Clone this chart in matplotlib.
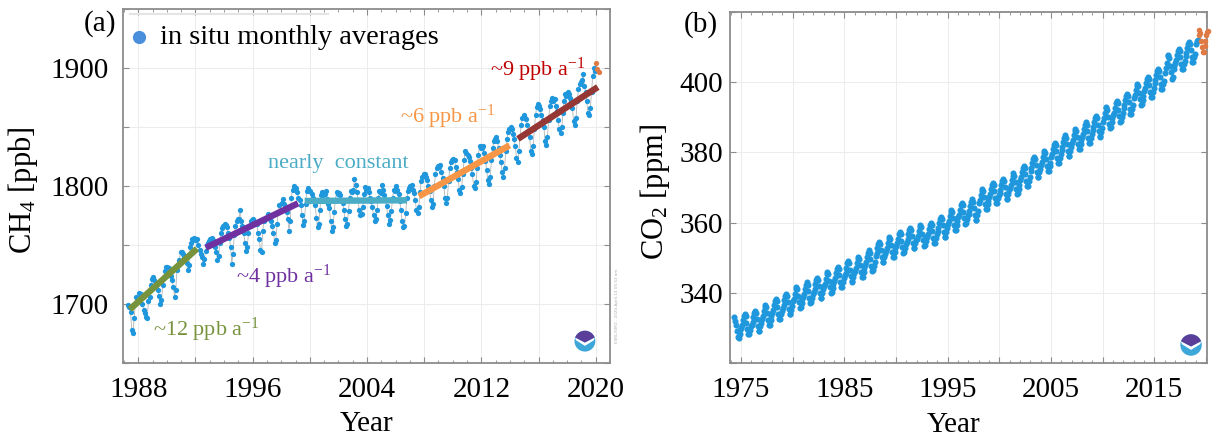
import matplotlib.pyplot as plt
import numpy as np
from matplotlib.ticker import MultipleLocator, FuncFormatter
from matplotlib.patches import Circle, Polygon

plt.rcParams['font.family'] = ['Liberation Serif', 'DejaVu Serif']
plt.rcParams['mathtext.fontset'] = 'custom'
plt.rcParams['mathtext.rm'] = 'Liberation Serif'
plt.rcParams['mathtext.it'] = 'Liberation Serif:italic'
plt.rcParams['mathtext.default'] = 'rm'

# ---------------- data: CH4 monthly means [ppb], Apr 1987 - Dec 2019 (blue) ----------------
ch4_start = 1987 + 3 / 12   # first value is April 1987
ch4_blue = [
    1699, 1697, 1693, 1678, 1675, 1688, 1700, 1706, 1704,                     # 1987
    1709, 1705, 1708, 1700, 1695, 1692, 1689, 1688, 1702, 1706, 1716, 1721,   # 1988
    1723, 1720, 1715, 1717, 1712, 1707, 1700, 1703, 1716, 1723, 1728, 1731,   # 1989
    1731, 1730, 1728, 1724, 1720, 1714, 1706, 1712, 1729, 1733, 1737, 1744,   # 1990
    1744, 1742, 1740, 1741, 1735, 1729, 1733, 1748, 1752, 1755, 1756, 1754,   # 1991
    1754, 1755, 1750, 1746, 1742, 1740, 1734, 1738, 1745, 1750, 1752, 1753,   # 1992
    1755, 1756, 1754, 1750, 1748, 1744, 1737, 1741, 1752, 1760, 1764, 1766,   # 1993
    1768, 1767, 1765, 1760, 1756, 1748, 1734, 1742, 1758, 1766, 1770, 1772,   # 1994
    1772, 1780, 1770, 1766, 1760, 1752, 1745, 1748, 1760, 1766, 1770, 1771,   # 1995
    1772, 1770, 1768, 1768, 1760, 1755, 1746, 1744, 1762, 1770, 1772, 1773,   # 1996
    1776, 1774, 1772, 1770, 1766, 1760, 1752, 1754, 1768, 1778, 1784, 1780,   # 1997
    1786, 1789, 1785, 1783, 1778, 1772, 1762, 1770, 1790, 1797, 1800, 1798,   # 1998
    1798, 1795, 1790, 1788, 1784, 1775, 1767, 1770, 1785, 1796, 1798, 1796,   # 1999
    1796, 1793, 1790, 1788, 1784, 1773, 1765, 1768, 1780, 1792, 1795, 1792,   # 2000
    1793, 1796, 1789, 1785, 1781, 1770, 1762, 1765, 1778, 1788, 1795, 1793,   # 2001
    1794, 1792, 1788, 1786, 1780, 1772, 1766, 1768, 1779, 1790, 1796, 1795,   # 2002
    1797, 1806, 1801, 1795, 1788, 1780, 1775, 1776, 1782, 1793, 1799, 1797,   # 2003
    1798, 1795, 1790, 1787, 1782, 1775, 1770, 1772, 1780, 1790, 1796, 1794,   # 2004
    1801, 1797, 1792, 1788, 1783, 1775, 1768, 1771, 1779, 1790, 1797, 1796,   # 2005
    1800, 1797, 1793, 1787, 1780, 1770, 1765, 1766, 1777, 1790, 1796, 1798,   # 2006
    1800, 1801, 1797, 1794, 1788, 1780, 1777, 1782, 1795, 1804, 1808, 1810,   # 2007
    1810, 1808, 1805, 1800, 1796, 1788, 1782, 1785, 1800, 1810, 1815, 1817,   # 2008
    1816, 1818, 1812, 1807, 1800, 1790, 1786, 1790, 1804, 1815, 1820, 1822,   # 2009
    1823, 1822, 1816, 1812, 1806, 1797, 1794, 1799, 1810, 1822, 1830, 1828,   # 2010
    1826, 1825, 1821, 1815, 1810, 1800, 1798, 1803, 1815, 1826, 1834, 1832,   # 2011
    1832, 1834, 1828, 1821, 1814, 1805, 1802, 1808, 1822, 1832, 1838, 1840,   # 2012
    1842, 1838, 1832, 1826, 1820, 1812, 1808, 1815, 1830, 1840, 1846, 1848,   # 2013
    1850, 1848, 1844, 1840, 1834, 1824, 1820, 1830, 1842, 1852, 1858, 1860,   # 2014
    1858, 1857, 1852, 1847, 1842, 1830, 1827, 1834, 1848, 1860, 1867, 1870,   # 2015
    1868, 1865, 1860, 1856, 1850, 1838, 1835, 1842, 1856, 1868, 1872, 1875,   # 2016
    1872, 1874, 1868, 1864, 1856, 1848, 1845, 1850, 1862, 1872, 1878, 1876,   # 2017
    1880, 1878, 1875, 1872, 1866, 1855, 1852, 1858, 1872, 1882, 1887, 1888,   # 2018
    1890, 1895, 1885, 1880, 1872, 1862, 1860, 1866, 1880, 1893, 1900, 1898,   # 2019
]
ch4_recent = [1904, 1899, 1897]    # Jan - Mar 2020, preliminary (orange)

# trend segments: (x0, x1), (y0, y1), colour, label, label position
trend_x = [(1987.41, 1992.11), (1992.72, 1999.18), (1999.64, 2006.80),
           (2007.64, 2013.98), (2014.56, 2020.15)]
trend_y = [(1695.3, 1746.8), (1747.6, 1785.3), (1787.3, 1787.9),
           (1791.3, 1834.5), (1840.0, 1884.0)]
trend_colors = ['#77933C', '#7030A0', '#4BACC6', '#F79646', '#953735']
trend_labels = ['~12 ppb a$^{-1}$', '~4 ppb a$^{-1}$', 'nearly  constant',
                '~6 ppb a$^{-1}$', '~9 ppb a$^{-1}$']
label_colors = ['#77933C', '#7030A0', '#4BACC6', '#F79646', '#C00000']
label_pos = [(1989.0, 1677.5), (1994.85, 1722.8), (1997.1, 1819.5),
             (2006.3, 1858.6), (2012.6, 1898.5)]

# ---------------- data: CO2 monthly means [ppm], May 1974 - Mar 2019 (blue) ----------------
co2_start = 1974 + 4 / 12   # first value is May 1974
co2_blue = [
    333.1, 332.1, 330.9, 329.2, 327.4, 327.2, 328.3, 329.5,                              # 1974
    330.0, 330.8, 332.2, 333.4, 334.0, 333.4, 331.6, 329.7, 328.2, 328.3, 329.6, 330.7,  # 1975
    330.9, 331.7, 333.1, 334.3, 334.9, 334.3, 332.5, 330.6, 329.1, 329.2, 330.5, 331.6,  # 1976
    332.7, 333.5, 334.9, 336.1, 336.7, 336.1, 334.3, 332.4, 330.9, 331.0, 332.3, 333.4,  # 1977
    334.3, 335.1, 336.5, 337.7, 338.3, 337.7, 335.9, 334.0, 332.5, 332.6, 333.9, 335.0,  # 1978
    335.7, 336.5, 337.9, 339.1, 339.7, 339.1, 337.3, 335.4, 333.9, 334.0, 335.3, 336.4,  # 1979
    337.6, 338.4, 339.8, 341.0, 341.6, 341.0, 339.2, 337.3, 335.8, 335.9, 337.2, 338.3,  # 1980
    339.0, 339.8, 341.2, 342.4, 343.0, 342.4, 340.6, 338.7, 337.2, 337.3, 338.6, 339.7,  # 1981
    340.3, 341.1, 342.5, 343.7, 344.3, 343.7, 341.9, 340.0, 338.5, 338.6, 339.9, 341.0,  # 1982
    341.9, 342.7, 344.1, 345.3, 345.9, 345.3, 343.5, 341.6, 340.1, 340.2, 341.5, 342.6,  # 1983
    343.5, 344.3, 345.7, 346.9, 347.5, 346.9, 345.1, 343.2, 341.7, 341.8, 343.1, 344.2,  # 1984
    345.0, 345.8, 347.2, 348.4, 349.0, 348.4, 346.6, 344.7, 343.2, 343.3, 344.6, 345.7,  # 1985
    346.3, 347.1, 348.5, 349.7, 350.3, 349.7, 347.9, 346.0, 344.5, 344.6, 345.9, 347.0,  # 1986
    348.1, 348.9, 350.3, 351.5, 352.1, 351.5, 349.7, 347.8, 346.3, 346.4, 347.7, 348.8,  # 1987
    350.5, 351.3, 352.7, 353.9, 354.5, 353.9, 352.1, 350.2, 348.7, 348.8, 350.1, 351.2,  # 1988
    352.0, 352.8, 354.2, 355.4, 356.0, 355.4, 353.6, 351.7, 350.2, 350.3, 351.6, 352.7,  # 1989
    353.3, 354.1, 355.5, 356.7, 357.3, 356.7, 354.9, 353.0, 351.5, 351.6, 352.9, 354.0,  # 1990
    354.5, 355.3, 356.7, 357.9, 358.5, 357.9, 356.1, 354.2, 352.7, 352.8, 354.1, 355.2,  # 1991
    355.3, 356.1, 357.5, 358.7, 359.3, 358.7, 356.9, 355.0, 353.5, 353.6, 354.9, 356.0,  # 1992
    356.0, 356.8, 358.2, 359.4, 360.0, 359.4, 357.6, 355.7, 354.2, 354.3, 355.6, 356.7,  # 1993
    357.7, 358.5, 359.9, 361.1, 361.7, 361.1, 359.3, 357.4, 355.9, 356.0, 357.3, 358.4,  # 1994
    359.7, 360.5, 361.9, 363.1, 363.7, 363.1, 361.3, 359.4, 357.9, 358.0, 359.3, 360.4,  # 1995
    361.5, 362.3, 363.7, 364.9, 365.5, 364.9, 363.1, 361.2, 359.7, 359.8, 361.1, 362.2,  # 1996
    362.6, 363.4, 364.8, 366.0, 366.6, 366.0, 364.2, 362.3, 360.8, 360.9, 362.2, 363.3,  # 1997
    365.6, 366.4, 367.8, 369.0, 369.6, 369.0, 367.2, 365.3, 363.8, 363.9, 365.2, 366.3,  # 1998
    367.3, 368.1, 369.5, 370.7, 371.3, 370.7, 368.9, 367.0, 365.5, 365.6, 366.9, 368.0,  # 1999
    368.5, 369.3, 370.7, 371.9, 372.5, 371.9, 370.1, 368.2, 366.7, 366.8, 368.1, 369.2,  # 2000
    370.0, 370.8, 372.2, 373.4, 374.0, 373.4, 371.6, 369.7, 368.2, 368.3, 369.6, 370.7,  # 2001
    372.2, 373.0, 374.4, 375.6, 376.2, 375.6, 373.8, 371.9, 370.4, 370.5, 371.8, 372.9,  # 2002
    374.7, 375.5, 376.9, 378.1, 378.7, 378.1, 376.3, 374.4, 372.9, 373.0, 374.3, 375.4,  # 2003
    376.4, 377.2, 378.6, 379.8, 380.4, 379.8, 378.0, 376.1, 374.6, 374.7, 376.0, 377.1,  # 2004
    378.7, 379.5, 380.9, 382.1, 382.7, 382.1, 380.3, 378.4, 376.9, 377.0, 378.3, 379.4,  # 2005
    380.8, 381.6, 383.0, 384.2, 384.8, 384.2, 382.4, 380.5, 379.0, 379.1, 380.4, 381.5,  # 2006
    382.7, 383.5, 384.9, 386.1, 386.7, 386.1, 384.3, 382.4, 380.9, 381.0, 382.3, 383.4,  # 2007
    384.5, 385.3, 386.7, 387.9, 388.5, 387.9, 386.1, 384.2, 382.7, 382.8, 384.1, 385.2,  # 2008
    386.3, 387.1, 388.5, 389.7, 390.3, 389.7, 387.9, 386.0, 384.5, 384.6, 385.9, 387.0,  # 2009
    388.5, 389.8, 391.1, 392.5, 393.0, 392.1, 390.1, 388.2, 386.8, 387.2, 388.6, 389.7,  # 2010
    390.5, 391.3, 392.7, 393.9, 394.5, 393.9, 392.1, 390.2, 388.7, 388.8, 390.1, 391.2,  # 2011
    392.7, 393.5, 394.9, 396.1, 396.7, 396.1, 394.3, 392.4, 390.9, 391.0, 392.3, 393.4,  # 2012
    395.4, 396.2, 397.6, 398.8, 399.4, 398.8, 397.0, 395.1, 393.6, 393.7, 395.0, 396.1,  # 2013
    397.5, 398.3, 399.7, 400.9, 401.5, 400.9, 399.1, 397.2, 395.7, 395.8, 397.1, 398.2,  # 2014
    399.7, 400.5, 401.9, 403.1, 403.7, 403.1, 401.3, 399.4, 397.9, 398.0, 399.3, 400.4,  # 2015
    402.6, 403.9, 405.3, 407.5, 407.7, 406.8, 404.7, 402.8, 401.0, 401.5, 403.6, 404.6,  # 2016
    405.4, 406.2, 407.6, 408.8, 409.4, 408.8, 407.0, 405.1, 403.6, 403.7, 405.0, 406.1,  # 2017
    407.4, 408.2, 409.6, 410.8, 411.4, 410.8, 409.0, 407.1, 405.6, 405.7, 407.0, 408.1,  # 2018
    410.8, 411.6, 412.0,                                                                 # 2019
]
# Apr 2019 - Mar 2020, preliminary (orange)
co2_recent = [413.3, 414.7, 413.9, 411.8, 410.0, 408.5, 408.6, 410.2, 411.8, 413.4, 414.1, 414.5]

BLUE = '#1f97dc'
ORANGE = '#e07a45'
SPINE = '#8c8c8c'


def month_axis(start, n):
    # centre of each month, starting at the given month start
    return start + (np.arange(n) + 0.5) / 12


def label_every(step, first, lo=None, hi=None):
    def fmt(v, pos):
        v = int(round(v))
        if (v - first) % step:
            return ''
        if lo is not None and not (lo <= v <= hi):
            return ''
        return str(v)
    return FuncFormatter(fmt)


def style(ax):
    for s in ax.spines.values():
        s.set_color(SPINE)
        s.set_linewidth(1.3)
    ax.tick_params(which='both', direction='in', top=True, right=True,
                   color=SPINE, labelsize=21)
    ax.tick_params(which='major', length=4, width=0.8)
    ax.tick_params(which='minor', length=2.5, width=0.6)
    ax.grid(True, which='major', color='#ececec', lw=0.7)
    ax.set_axisbelow(True)


def noaa_logo(ax, rect):
    lx = ax.inset_axes(rect)
    lx.set_xlim(-1.05, 1.05)
    lx.set_ylim(-1.05, 1.05)
    lx.set_aspect('equal')
    lx.axis('off')
    lx.add_patch(Circle((0, 0), 1, color='#3ea7da', lw=0))
    t = np.radians(np.linspace(20, 160, 40))
    top = np.column_stack([np.cos(t), np.sin(t)])
    lx.add_patch(Polygon(np.vstack([top, [[0, -0.15]]]), color='#5b3e9a', lw=0))
    lx.add_patch(Polygon([(-0.94, 0.34), (0, -0.15), (0.94, 0.34), (0.85, 0.08),
                          (0, -0.45), (-0.85, 0.08)], color='white', lw=0))


fig = plt.figure(figsize=(12.18, 4.37), dpi=100)
ax1 = fig.add_axes([0.1012, 0.1700, 0.3996, 0.8087])
ax2 = fig.add_axes([0.5993, 0.1686, 0.3919, 0.8046])

# ---------------- panel (a): CH4 ----------------
t_blue = month_axis(ch4_start, len(ch4_blue))
t_rec = month_axis(2020.0, len(ch4_recent))
ax1.plot(np.r_[t_blue, t_rec], np.r_[ch4_blue, ch4_recent], color='#b5b5b5', lw=0.6, zorder=2)
ax1.plot(t_blue, ch4_blue, 'o', color=BLUE, ms=3.8, mew=0, zorder=3)
ax1.plot(t_rec, ch4_recent, 'o', color=ORANGE, ms=3.8, mew=0, zorder=3)

for (x0, x1), (y0, y1), c in zip(trend_x, trend_y, trend_colors):
    ax1.plot([x0, x1], [y0, y1], color=c, lw=4.6, solid_capstyle='butt', zorder=4)
for txt, c, (x, y) in zip(trend_labels, label_colors, label_pos):
    ax1.text(x, y, txt, color=c, fontsize=16, ha='left', va='center', zorder=5)

ax1.set_xlim(1986.95, 2021.0)
ax1.set_ylim(1650, 1950)
ax1.xaxis.set_major_locator(MultipleLocator(4))
ax1.xaxis.set_minor_locator(MultipleLocator(1))
ax1.xaxis.set_major_formatter(label_every(8, 1988))
ax1.yaxis.set_major_locator(MultipleLocator(50))
ax1.yaxis.set_major_formatter(label_every(100, 1700, 1700, 1900))
style(ax1)
ax1.tick_params(axis='y', pad=10.5)
ax1.tick_params(axis='x', pad=10)
ax1.set_ylabel('CH$_4$ [ppb]', fontsize=22)
ax1.yaxis.set_label_coords(-0.171, 0.489)
ax1.set_xlabel('Year', fontsize=21)
ax1.xaxis.set_label_coords(0.5007, -0.138)

# legend line and marker at the top left
ax1.plot([0.013, 0.42], [0.987, 0.987], color='#e4e4e4', lw=1.5, transform=ax1.transAxes)
ax1.plot([0.032], [0.9216], 'o', color='#4a8fdb', ms=9.5, mew=0, transform=ax1.transAxes)
ax1.text(0.0754, 0.9216, 'in situ monthly averages', fontsize=20.5, va='center',
         transform=ax1.transAxes)
noaa_logo(ax1, [0.926, 0.030, 0.045, 0.062])
fig.text(0.5066, 0.30, 'ESRL/GMD - 2020-April-14 05:53 am', rotation=90, fontsize=3,
         color='#b0b0b0', ha='center', va='center', family='DejaVu Sans')

# ---------------- panel (b): CO2 ----------------
c_blue = month_axis(co2_start, len(co2_blue))
c_rec = month_axis(2019 + 3 / 12, len(co2_recent))
ax2.plot(c_blue, co2_blue, 'o', color=BLUE, ms=4.4, mew=0, zorder=3)
ax2.plot(c_rec, co2_recent, 'o', color=ORANGE, ms=4.0, mew=0, zorder=3, clip_on=False)

ax2.set_xlim(1973.94, 2020.14)
ax2.set_ylim(320, 420)
ax2.xaxis.set_major_locator(MultipleLocator(5))
ax2.xaxis.set_minor_locator(MultipleLocator(1))
ax2.xaxis.set_major_formatter(label_every(10, 1975))
ax2.yaxis.set_major_locator(MultipleLocator(20))
ax2.yaxis.set_major_formatter(label_every(20, 340, 340, 400))
style(ax2)
ax2.tick_params(axis='y', pad=4.8)
ax2.tick_params(axis='x', pad=10)
ax2.set_ylabel('CO$_2$ [ppm]', fontsize=22)
ax2.yaxis.set_label_coords(-0.1215, 0.487)
ax2.set_xlabel('Year', fontsize=21)
ax2.xaxis.set_label_coords(0.469, -0.138)
noaa_logo(ax2, [0.942, 0.020, 0.048, 0.064])

fig.text(0.0821, 0.947, '(a)', fontsize=21, ha='center', va='center')
fig.text(0.5755, 0.943, '(b)', fontsize=21, ha='center', va='center')

fig.savefig('out.png', dpi=100)
